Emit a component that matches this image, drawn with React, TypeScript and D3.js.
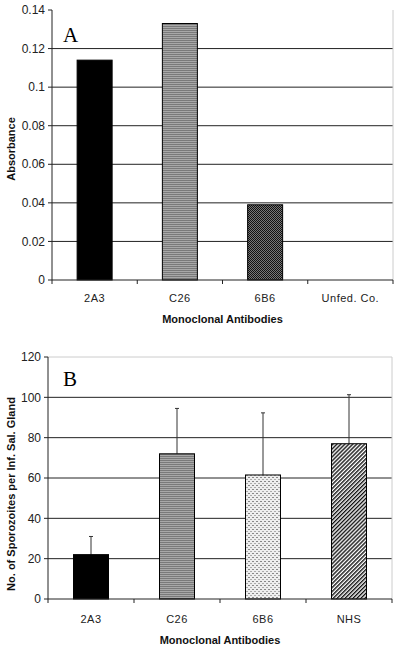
import React from "react";
import * as d3 from "d3";

const catsA = ["2A3", "C26", "6B6", "Unfed. Co."];
const valsA = [0.114, 0.133, 0.039, 0];
const ticksA = [0, 0.02, 0.04, 0.06, 0.08, 0.1, 0.12, 0.14];
const tickLabelsA = ["0", "0.02", "0.04", "0.06", "0.08", "0.1", "0.12", "0.14"];
const fillsA = ["#000", "url(#hstripe)", "url(#checker)", "none"];

const catsB = ["2A3", "C26", "6B6", "NHS"];
const valsB = [22, 72, 61.5, 77];
const errB = [31, 94.5, 92.3, 101.3];
const ticksB = [0, 20, 40, 60, 80, 100, 120];
const fillsB = ["#000", "url(#hstripe)", "url(#dots)", "url(#diag)"];

const FONT = "'Liberation Sans', Arial, sans-serif";

type PanelProps = {
  cats: string[];
  vals: number[];
  errs?: number[];
  ticks: number[];
  tickLabels: string[];
  fills: string[];
  x0: number;
  x1: number;
  yTop: number;
  yBot: number;
  yMax: number;
  letter: string;
  letterX: number;
  letterY: number;
  yTitle: string;
  yTitleX: number;
  yTitleY: number;
  xLabelY: number;
  xTitleY: number;
  topBorder: boolean;
};

function Panel(p: PanelProps) {
  const x = d3.scaleBand<string>().domain(p.cats).range([p.x0, p.x1]).paddingInner(0).paddingOuter(0);
  const y = d3.scaleLinear().domain([0, p.yMax]).range([p.yBot, p.yTop]);
  const bw = 35;
  return (
    <g>
      {p.ticks.filter((t) => t > 0 && t < p.yMax).map((t, i) => (
        <line key={"g" + i} x1={p.x0} x2={p.x1} y1={y(t)} y2={y(t)} stroke="#222" strokeWidth={1} />
      ))}
      {p.topBorder && (
        <line x1={p.x0} x2={p.x1} y1={y(p.yMax)} y2={y(p.yMax)} stroke="#ccc" strokeWidth={1} />
      )}
      <line x1={p.x1} x2={p.x1} y1={y(p.yMax)} y2={p.yBot} stroke="#ccc" strokeWidth={1} />
      {p.cats.map((c, i) => {
        const cx = (x(c) as number) + x.bandwidth() / 2;
        if (p.vals[i] <= 0) return null;
        return (
          <g key={"b" + i}>
            {p.errs && (
              <g>
                <line x1={cx} x2={cx} y1={y(p.vals[i])} y2={y(p.errs[i])} stroke="#333" strokeWidth={1} />
                <line x1={cx - 2} x2={cx + 2} y1={y(p.errs[i])} y2={y(p.errs[i])} stroke="#333" strokeWidth={1} />
              </g>
            )}
            <rect
              x={cx - bw / 2}
              y={y(p.vals[i])}
              width={bw}
              height={p.yBot - y(p.vals[i])}
              fill={p.fills[i]}
              stroke="#000"
              strokeWidth={1}
            />
          </g>
        );
      })}
      <line x1={p.x0} x2={p.x0} y1={y(p.yMax)} y2={p.yBot} stroke="#222" strokeWidth={1} />
      {p.ticks.map((t, i) => (
        <g key={"t" + i}>
          <line x1={p.x0 - 4} x2={p.x0} y1={y(t)} y2={y(t)} stroke="#222" strokeWidth={1} />
          <text x={p.x0 - 7} y={y(t)} dy="0.35em" textAnchor="end" fontFamily={FONT} fontSize={12} fill="#222">
            {p.tickLabels[i]}
          </text>
        </g>
      ))}
      <line x1={p.x0} x2={p.x1} y1={p.yBot} y2={p.yBot} stroke="#222" strokeWidth={1} />
      {p.cats.map((c, i) => (
        <line key={"xt" + i} x1={x(c) as number} x2={x(c) as number} y1={p.yBot} y2={p.yBot + 4} stroke="#222" />
      ))}
      <line x1={p.x1} x2={p.x1} y1={p.yBot} y2={p.yBot + 4} stroke="#222" />
      {p.cats.map((c, i) => (
        <text
          key={"xl" + i}
          x={(x(c) as number) + x.bandwidth() / 2}
          y={p.xLabelY}
          textAnchor="middle"
          fontFamily={FONT}
          fontSize={11}
          letterSpacing={0.5}
          fill="#222"
        >
          {c}
        </text>
      ))}
      <text
        x={(p.x0 + p.x1) / 2}
        y={p.xTitleY}
        textAnchor="middle"
        fontFamily={FONT}
        fontSize={11}
        fontWeight="bold"
        fill="#111"
      >
        Monoclonal Antibodies
      </text>
      <text
        transform={`translate(${p.yTitleX},${p.yTitleY}) rotate(-90)`}
        textAnchor="middle"
        fontFamily={FONT}
        fontSize={11}
        fontWeight="bold"
        fill="#111"
      >
        {p.yTitle}
      </text>
      <text x={p.letterX} y={p.letterY} fontFamily="'Liberation Serif', 'Times New Roman', serif" fontSize={21} fill="#000">
        {p.letter}
      </text>
    </g>
  );
}

export default function App() {
  return (
    <svg
      width={400}
      height={649}
      style={{ position: "absolute", left: 0, top: 0, background: "#fff" }}
    >
      <defs>
        <pattern id="hstripe" width={4} height={2} patternUnits="userSpaceOnUse">
          <rect width={4} height={2} fill="#a8a8a8" />
          <rect width={4} height={1} fill="#7a7a7a" />
        </pattern>
        <pattern id="checker" width={2} height={2} patternUnits="userSpaceOnUse">
          <rect width={2} height={2} fill="#777" />
          <rect width={1} height={1} fill="#111" />
          <rect x={1} y={1} width={1} height={1} fill="#111" />
        </pattern>
        <pattern id="dots" width={4} height={4} patternUnits="userSpaceOnUse">
          <rect width={4} height={4} fill="#eee" />
          <rect x={0} y={1} width={2} height={1} fill="#888" />
          <rect x={2} y={3} width={2} height={1} fill="#aaa" />
        </pattern>
        <pattern id="diag" width={2.8} height={4} patternUnits="userSpaceOnUse" patternTransform="rotate(45)">
          <rect width={2.8} height={4} fill="#fff" />
          <rect width={1.4} height={4} fill="#111" />
        </pattern>
      </defs>
      <Panel
        cats={catsA}
        vals={valsA}
        ticks={ticksA}
        tickLabels={tickLabelsA}
        fills={fillsA}
        x0={52}
        x1={393}
        yTop={10}
        yBot={280}
        yMax={0.14}
        letter="A"
        letterX={63}
        letterY={42}
        yTitle="Absorbance"
        yTitleX={15}
        yTitleY={149}
        xLabelY={302}
        xTitleY={323}
        topBorder={false}
      />
      <Panel
        cats={catsB}
        vals={valsB}
        errs={errB}
        ticks={ticksB}
        tickLabels={ticksB.map(String)}
        fills={fillsB}
        x0={48}
        x1={392}
        yTop={357}
        yBot={599}
        yMax={120}
        letter="B"
        letterX={63}
        letterY={386}
        yTitle="No. of Sporozoites per Inf. Sal. Gland"
        yTitleX={15}
        yTitleY={494}
        xLabelY={623}
        xTitleY={644}
        topBorder={true}
      />
    </svg>
  );
}
